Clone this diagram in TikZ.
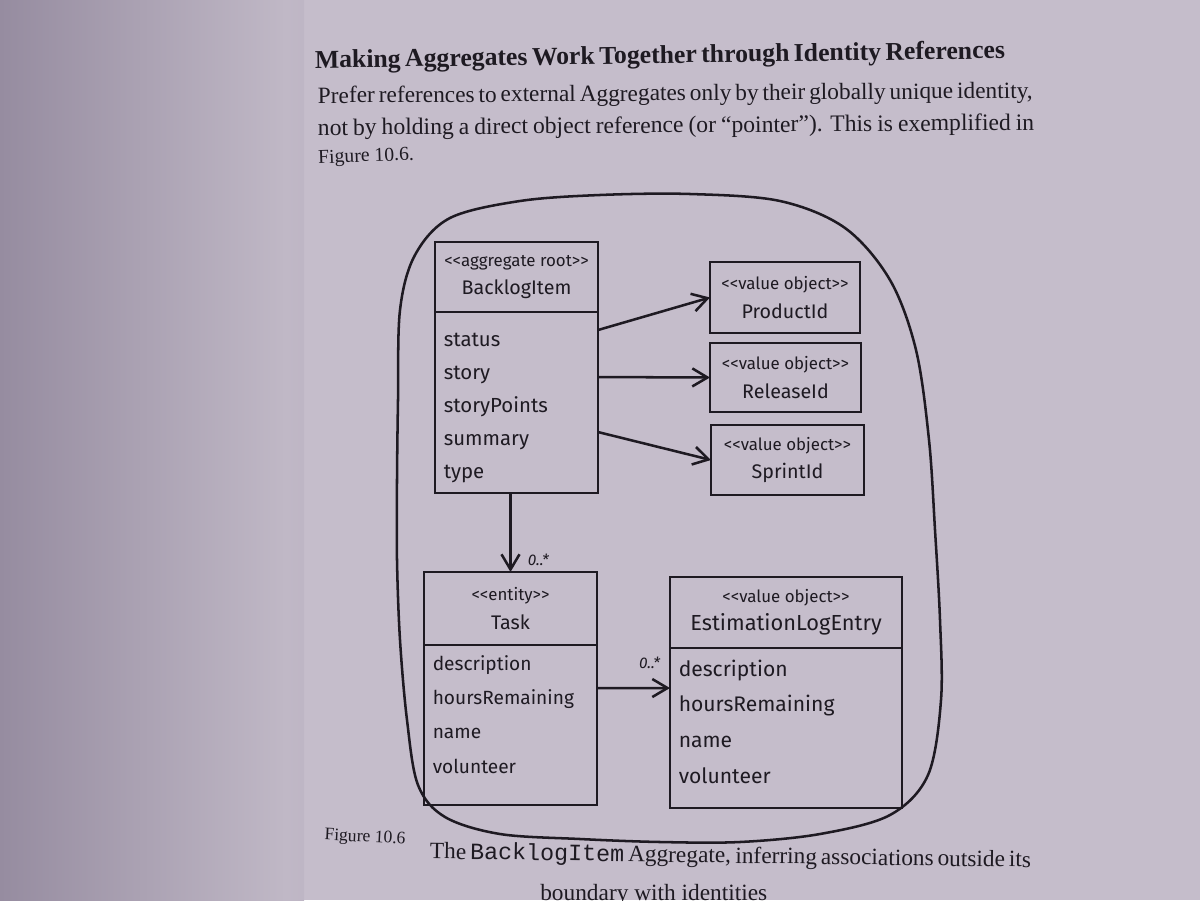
\documentclass[tikz,border=0pt]{standalone}
\usepackage{fontspec}
\setmainfont{Liberation Serif}
\newfontfamily\umlfont{Fira Sans}
\newfontfamily\codefont{Liberation Mono}
\usetikzlibrary{positioning,arrows.meta}

\definecolor{pagecol}{RGB}{197,189,203}
\definecolor{leftdark}{RGB}{150,140,160}
\definecolor{leftlight}{RGB}{192,184,198}
\definecolor{ink}{RGB}{30,26,34}

\newcommand{\stereo}[1]{{\fontsize{12}{14}\selectfont<{}<#1>{}>}}

\tikzset{
  hdr/.style={draw=ink, line width=1.8pt, align=center, inner sep=0pt, outer sep=0pt,
    text=ink, font=\umlfont\fontsize{14}{20}\selectfont},
  attrs/.style 2 args={draw=ink, line width=1.8pt, align=left, inner xsep=0.22cm, inner ysep=0pt,
    outer sep=0pt, text=ink, font=\umlfont\fontsize{#1}{#2}\selectfont},
  conn/.style={draw=ink, line width=1.8pt},
  mult/.style={text=ink, inner sep=0pt, font=\umlfont\itshape\fontsize{11}{13}\selectfont},
  booktext/.style={text=ink, inner sep=0pt}
}

\begin{document}
\begin{tikzpicture}[x=0.025cm, y=-0.025cm, >={Straight Barb[length=0.38cm,width=0.45cm]}]
    \useasboundingbox (0,0) rectangle (1200,900);
    % pages
    \fill[pagecol] (0,0) rectangle (1200,900);
    \shade[left color=leftdark, right color=leftlight] (0,0) rectangle (286,900);
    \shade[left color=leftlight, right color=pagecol!85!leftdark] (286,0) rectangle (304,900);

    % heading and paragraph
    \node[booktext, rotate=0.8, font=\fontsize{18.3}{22}\selectfont\bfseries] (head) at (660,57)
      {\makebox[17.25cm][s]{Making Aggregates Work Together through Identity References}};
    \node[booktext, rotate=0.4, font=\fontsize{16.6}{20}\selectfont] (par1) at (674,95)
      {\makebox[17.8cm][s]{Prefer references to external Aggregates only by their globally unique identity,}};
    \node[booktext, rotate=0.4, font=\fontsize{16.8}{20}\selectfont] (par2) at (676,127)
      {\makebox[17.9cm][s]{not by holding a direct object reference (or ``pointer''). This is exemplified in}};
    \node[booktext, rotate=2, anchor=west, font=\fontsize{14}{16}\selectfont] (par3) at (318,159)
      {Figure 10.6.};

    % aggregate boundary
    \draw[ink, line width=1.8pt] plot[smooth cycle, tension=0.55] coordinates {
      (400,310) (415,255) (450,218) (520,201) (600,195) (690,194) (780,201) (845,228)
      (890,280) (916,350) (929,440) (935,530) (940,620) (941,700) (928,775) (890,815)
      (820,834) (740,842) (660,842) (580,839) (500,834) (445,817) (418,785) (407,720)
      (400,640) (397,560) (397,480) (398,400)};

    % classes
    \node[hdr, minimum width=4.075cm, minimum height=1.75cm] (bih) at (516.5,277)
      {\stereo{aggregate root}\\BacklogItem};
    \node[attrs={14.5}{23.5}, text width=3.635cm, text height=0.85cm, text depth=3.675cm,
      below=0pt of bih] (bib)
      {status\\story\\storyPoints\\summary\\type};

    \node[hdr, minimum width=3.75cm, minimum height=1.775cm] (pid) at (785,297.5)
      {\stereo{value object}\\ProductId};
    \node[hdr, minimum width=3.775cm, minimum height=1.725cm] (rid) at (785.5,377.5)
      {\stereo{value object}\\ReleaseId};
    \node[hdr, minimum width=3.825cm, minimum height=1.75cm] (sid) at (787.5,460)
      {\stereo{value object}\\SprintId};

    \node[hdr, minimum width=4.325cm, minimum height=1.825cm] (tkh) at (510.5,608.5)
      {\stereo{entity}\\Task};
    \node[attrs={13.6}{24.5}, text width=3.885cm, text height=0.625cm, text depth=3.375cm,
      below=0pt of tkh] (tkb)
      {description\\hoursRemaining\\name\\volunteer};

    \node[hdr, minimum width=5.8cm, minimum height=1.775cm, font=\umlfont\fontsize{15.5}{20}\selectfont] (elh) at (786,612.5)
      {\stereo{value object}\\EstimationLogEntry};
    \node[attrs={15}{25.5}, text width=5.36cm, text height=0.7cm, text depth=3.3cm,
      below=0pt of elh] (elb)
      {description\\hoursRemaining\\name\\volunteer};

    % associations
    \path[->] ([yshift=-0.45cm]bib.north east) edge[conn] (pid.west);
    \path[->] ([yshift=-1.625cm]bib.north east) edge[conn] (rid.west);
    \path[->] ([yshift=-3cm]bib.north east) edge[conn] (sid.west);
    \path[->] (tkh.north |- bib.south) edge[conn] node[mult, pos=0.85, right=0.4cm] {0..*} (tkh.north);
    \path[->] ([yshift=-1.075cm]tkb.north east) edge[conn] node[mult, pos=0.72, above=0.45cm] {0..*} ([yshift=-1cm]elb.north west);

    % caption
    \node[booktext, rotate=-3, font=\fontsize{12.5}{14}\selectfont] (figno) at (365,838)
      {Figure 10.6};
    \node[booktext, rotate=-0.8, font=\fontsize{16.6}{20}\selectfont] (cap1) at (730,857)
      {\makebox[15cm][s]{The {\codefont BacklogItem} Aggregate, inferring associations outside its}};
    \node[booktext, anchor=north west, font=\fontsize{16.6}{20}\selectfont] (cap2) at (540,884)
      {boundary with identities};
  \end{tikzpicture}
\end{document}
